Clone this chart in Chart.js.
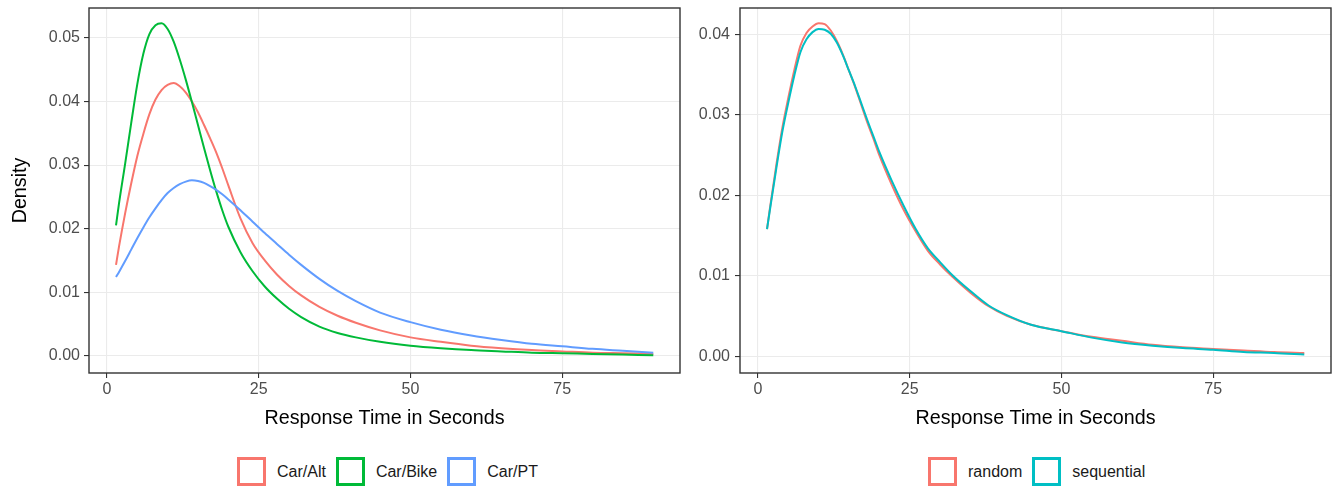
<!DOCTYPE html>
<html>
<head>
<meta charset="utf-8">
<script src="https://cdn.jsdelivr.net/npm/chart.js@4.4.1/dist/chart.umd.min.js"></script>
<style>
  body { margin: 0; background: #fff; font-family: "Liberation Sans", Arial, sans-serif; }
  #wrap { position: relative; width: 1332px; height: 488px; overflow: hidden; }
  .panel { position: absolute; top: 0; }
  .legend { position: absolute; top: 457px; display: flex; align-items: center; font-size: 16px; color: #1a1a1a; }
  .legend .key { width: 29px; height: 29px; box-sizing: border-box; border: 3px solid; background: #fff; }
  .legend .lab { margin-left: 11px; margin-right: 10px; }
</style>
</head>
<body>
<div id="wrap">
  <canvas id="leftChart" class="panel" width="685" height="440" style="left:0"></canvas>
  <canvas id="rightChart" class="panel" width="647" height="440" style="left:685px"></canvas>
  <div id="leftLegend" class="legend" style="left:237px"></div>
  <div id="rightLegend" class="legend" style="left:928px"></div>
</div>
<script>
// ------------------------
// Data
// ------------------------

const timeGrid = [1.5, 2, 3, 4, 5, 6, 7, 8, 9, 10, 11, 12, 13, 14, 15, 16, 17, 18, 19, 20,
  22, 24, 26, 28, 30, 32, 35, 38, 41, 45, 50, 55, 60, 65, 70, 75, 80, 85, 90];

const carAlt = [0.0143, 0.0172, 0.0224, 0.0271, 0.0314, 0.0349, 0.0380, 0.0403, 0.0418, 0.0426,
  0.0429, 0.0424, 0.0414, 0.0400, 0.0383, 0.0363, 0.0342, 0.0320, 0.0295, 0.0268,
  0.0216, 0.0177, 0.0150, 0.0128, 0.0110, 0.0095, 0.0077, 0.0063, 0.0052, 0.0040,
  0.0029, 0.0022, 0.0016, 0.0012, 0.0009, 0.0007, 0.0005, 0.0004, 0.0003];

const carBike = [0.0205, 0.0240, 0.0302, 0.0366, 0.0427, 0.0475, 0.0506, 0.0520, 0.0523, 0.0514,
  0.0494, 0.0466, 0.0434, 0.0399, 0.0363, 0.0327, 0.0292, 0.0259, 0.0229, 0.0203,
  0.0163, 0.0133, 0.0109, 0.0090, 0.0074, 0.0061, 0.0046, 0.0036, 0.0029, 0.0022,
  0.0016, 0.0012, 0.0009, 0.0007, 0.0005, 0.0004, 0.0003, 0.0002, 0.0001];

const carPT = [0.0124, 0.0132, 0.0149, 0.0167, 0.0185, 0.0202, 0.0218, 0.0232, 0.0245, 0.0256,
  0.0264, 0.0270, 0.0274, 0.0276, 0.0275, 0.0272, 0.0267, 0.0261, 0.0254, 0.0246,
  0.0229, 0.0211, 0.0193, 0.0176, 0.0159, 0.0143, 0.0121, 0.0102, 0.0086, 0.0068,
  0.0053, 0.0041, 0.0032, 0.0025, 0.0019, 0.0015, 0.0011, 0.0008, 0.0005];

const randomOrder = [0.0158, 0.0185, 0.0236, 0.0283, 0.0321, 0.0356, 0.0386, 0.0402, 0.0410, 0.0414,
  0.0413, 0.0405, 0.0392, 0.0375, 0.0355, 0.0335, 0.0313, 0.0291, 0.0271, 0.0250,
  0.0214, 0.0182, 0.0155, 0.0131, 0.0114, 0.0099, 0.0079, 0.0062, 0.0050, 0.0039,
  0.0031, 0.0024, 0.0019, 0.0014, 0.0011, 0.0009, 0.0007, 0.0005, 0.0004];

const sequentialOrder = [0.0158, 0.0183, 0.0232, 0.0278, 0.0315, 0.0349, 0.0378, 0.0394, 0.0403, 0.0407,
  0.0406, 0.0401, 0.0390, 0.0374, 0.0355, 0.0336, 0.0315, 0.0294, 0.0274, 0.0254,
  0.0219, 0.0187, 0.0158, 0.0134, 0.0117, 0.0101, 0.0081, 0.0063, 0.0051, 0.0039,
  0.0031, 0.0023, 0.0017, 0.0013, 0.0010, 0.0008, 0.0005, 0.0004, 0.0002];

const xTicks = [0, 25, 50, 75];
const leftYTicks = [0, 0.01, 0.02, 0.03, 0.04, 0.05];
const rightYTicks = [0, 0.01, 0.02, 0.03, 0.04];

const leftSeries = [
  { label: 'Car/Alt', values: carAlt, color: '#F8766D' },
  { label: 'Car/Bike', values: carBike, color: '#00BA38' },
  { label: 'Car/PT', values: carPT, color: '#619CFF' }
];
const rightSeries = [
  { label: 'random', values: randomOrder, color: '#F8766D' },
  { label: 'sequential', values: sequentialOrder, color: '#00BFC4' }
];

// ------------------------
// Chart setup
// ------------------------

const FONT = '"Liberation Sans", Arial, sans-serif';

// ggplot-style panel border
const panelBox = {
  id: 'panelBox',
  afterDatasetsDraw(chart) {
    const a = chart.chartArea;
    const ctx = chart.ctx;
    ctx.save();
    ctx.strokeStyle = '#333333';
    ctx.lineWidth = 1.4;
    ctx.strokeRect(a.left, a.top, a.right - a.left, a.bottom - a.top);
    ctx.restore();
  }
};

function makePanel(canvasId, series, cfg) {
  const n = series.length;
  const datasets = series.map((s, i) => ({
    label: s.label,
    data: timeGrid.map((x, j) => ({ x: x, y: s.values[j] })),
    borderColor: s.color,
    backgroundColor: '#fff',
    borderWidth: 2,
    pointRadius: 0,
    cubicInterpolationMode: 'monotone',
    order: n - i
  }));

  return new Chart(document.getElementById(canvasId), {
    type: 'line',
    data: { datasets },
    plugins: [panelBox],
    options: {
      responsive: false,
      animation: false,
      devicePixelRatio: 1,
      layout: { padding: { top: 8, right: cfg.padRight, left: 0, bottom: 0 } },
      plugins: { legend: { display: false }, tooltip: { enabled: false } },
      scales: {
        x: {
          type: 'linear',
          min: -2.95,
          max: 94.4,
          afterBuildTicks: s => { s.ticks = xTicks.map(v => ({ value: v })); },
          afterFit: s => { s.height = 67; s.paddingLeft = 0; s.paddingRight = 0; },
          ticks: {
            autoSkip: false, maxRotation: 0, padding: 2,
            color: '#4D4D4D', font: { family: FONT, size: 16 },
            callback: v => String(v)
          },
          grid: { color: '#EBEBEB', lineWidth: 1.1, tickLength: 5, tickColor: '#333333', tickWidth: 1.1 },
          border: { display: false },
          title: {
            display: true, text: 'Response Time in Seconds', color: '#000',
            font: { family: FONT, size: 19.7 }, padding: { top: 0, bottom: 10 }
          }
        },
        y: {
          type: 'linear',
          min: cfg.yMin,
          max: cfg.yMax,
          afterBuildTicks: s => { s.ticks = cfg.yTicks.map(v => ({ value: v })); },
          afterFit: s => { s.width = cfg.yWidth; s.paddingTop = 0; s.paddingBottom = 0; },
          ticks: {
            autoSkip: false, padding: cfg.tickPad,
            color: '#4D4D4D', font: { family: FONT, size: 16 },
            callback: v => v.toFixed(2)
          },
          grid: { color: '#EBEBEB', lineWidth: 1.1, tickLength: 5, tickColor: '#333333', tickWidth: 1.1 },
          border: { display: false },
          title: {
            display: cfg.yTitle !== '', text: cfg.yTitle, color: '#000',
            font: { family: FONT, size: 19.7 }, padding: { top: 9, bottom: 0 }
          }
        }
      }
    }
  });
}

function renderLegend(id, series) {
  const box = document.getElementById(id);
  series.forEach(s => {
    box.innerHTML += `<div class="key" style="border-color:${s.color}"></div><div class="lab">${s.label}</div>`;
  });
}

makePanel('leftChart', leftSeries, {
  yMin: -0.0027, yMax: 0.0547, yTicks: leftYTicks, yWidth: 89, tickPad: 4, padRight: 5, yTitle: 'Density'
});
makePanel('rightChart', rightSeries, {
  yMin: -0.0021, yMax: 0.0433, yTicks: rightYTicks, yWidth: 55, tickPad: 5, padRight: 1, yTitle: ''
});

renderLegend('leftLegend', leftSeries);
renderLegend('rightLegend', rightSeries);
</script>
</body>
</html>
